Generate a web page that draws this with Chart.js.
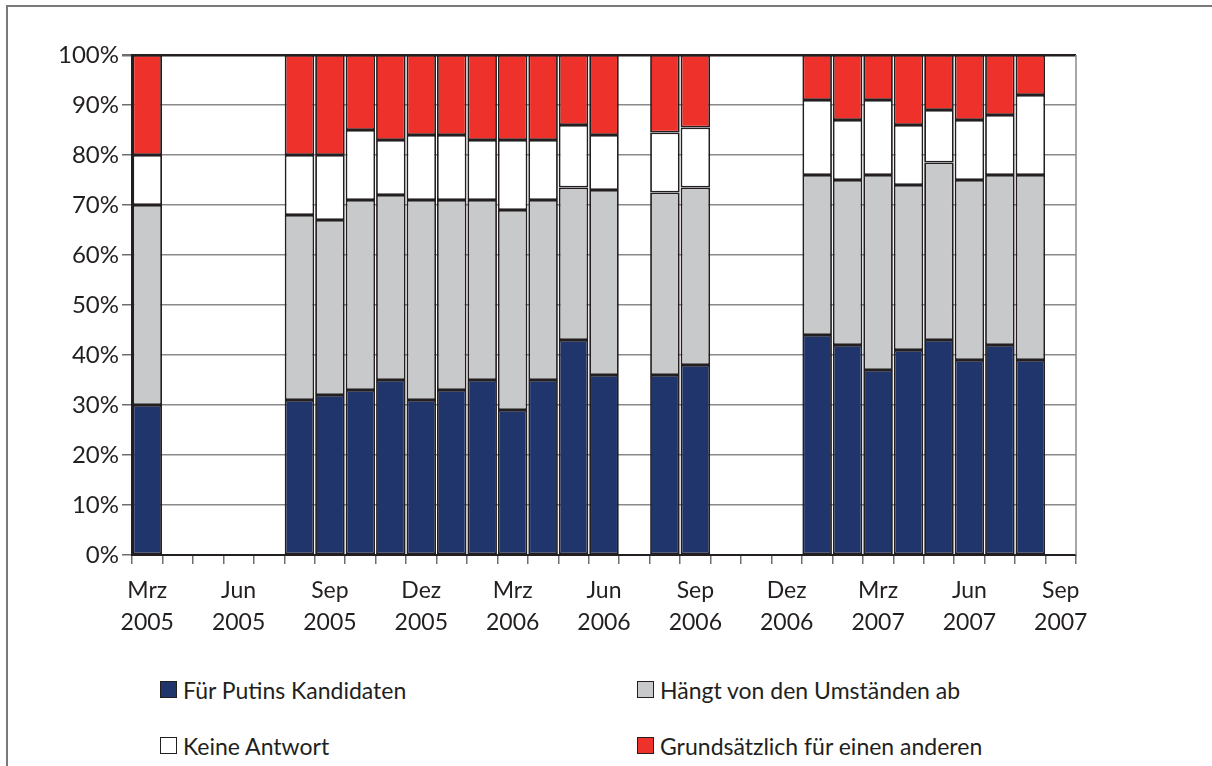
<!DOCTYPE html>
<html>
<head>
<meta charset="utf-8">
<script src="https://cdn.jsdelivr.net/npm/chart.js@4.4.0/dist/chart.umd.min.js"></script>
<style>
  body { margin: 0; background: #fff; }
  #frame {
    position: absolute; left: 6px; top: 5px; width: 1206px; height: 761px;
    border-top: 2px solid #7a7a7a; border-left: 2px solid #7a7a7a;
    box-sizing: border-box;
  }
  #wrap { position: absolute; left: 0; top: 0; width: 1212px; height: 640px; }
  #legend {
    position: absolute; left: 160px; top: 677px;
    display: grid; grid-template-columns: 477px 400px; row-gap: 31px;
    font-family: "Lato", sans-serif; font-size: 23px; color: #231f20;
  }
  .item { display: flex; align-items: center; height: 25px; }
  .box { width: 17px; height: 17px; border: 1.5px solid #231f20; margin-right: 6px; box-sizing: border-box; }
</style>
</head>
<body>
<div id="frame"></div>
<div id="wrap"><canvas id="umfrageChart"></canvas></div>
<div id="legend"></div>
<script>
// Monate Mrz 2005 bis Sep 2007
const months = [
    'Mrz 2005', 'Apr 2005', 'Mai 2005', 'Jun 2005', 'Jul 2005', 'Aug 2005', 'Sep 2005', 'Okt 2005', 'Nov 2005', 'Dez 2005',
    'Jan 2006', 'Feb 2006', 'Mrz 2006', 'Apr 2006', 'Mai 2006', 'Jun 2006', 'Jul 2006', 'Aug 2006', 'Sep 2006', 'Okt 2006', 'Nov 2006', 'Dez 2006',
    'Jan 2007', 'Feb 2007', 'Mrz 2007', 'Apr 2007', 'Mai 2007', 'Jun 2007', 'Jul 2007', 'Aug 2007', 'Sep 2007'
];

const putinsKandidat = [30, null, null, null, null, 31, 32, 33, 35, 31, 33, 35, 29, 35, 43, 36, null, 36, 38, null, null, null, 44, 42, 37, 41, 43, 39, 42, 39, null];
const umstaende     = [40, null, null, null, null, 37, 35, 38, 37, 40, 38, 36, 40, 36, 30.5, 37, null, 36.5, 35.5, null, null, null, 32, 33, 39, 33, 35.5, 36, 34, 37, null];
const keineAntwort  = [10, null, null, null, null, 12, 13, 14, 11, 13, 13, 12, 14, 12, 12.5, 11, null, 12, 12, null, null, null, 15, 12, 15, 12, 10.5, 12, 12, 16, null];
const andererKand   = [20, null, null, null, null, 20, 20, 15, 17, 16, 16, 17, 17, 17, 14, 16, null, 15.5, 14.5, null, null, null, 9, 13, 9, 14, 11, 13, 12, 8, null];

const yTicks = [0, 10, 20, 30, 40, 50, 60, 70, 80, 90, 100];

const seriesLabels = ['Für Putins Kandidaten', 'Hängt von den Umständen ab', 'Keine Antwort', 'Grundsätzlich für einen anderen'];
const seriesColors = ['#1f356c', '#c8c9cb', '#ffffff', '#ee322b'];
const seriesData = [putinsKandidat, umstaende, keineAntwort, andererKand];

const fontFamily = 'Lato, sans-serif';
const textColor = '#231f20';

function makeDataset(i) {
    return {
        label: seriesLabels[i],
        data: seriesData[i],
        backgroundColor: seriesColors[i],
        borderColor: '#231f20',
        borderWidth: 1.8,
        borderSkipped: false,
        barPercentage: 0.97,
        categoryPercentage: 1.0
    };
}

const ctx = document.getElementById('umfrageChart').getContext('2d');
const chart = new Chart(ctx, {
    type: 'bar',
    data: {
        labels: months,
        datasets: [0, 1, 2, 3].map(makeDataset)
    },
    options: {
        responsive: true,
        maintainAspectRatio: false,
        animation: false,
        layout: { padding: { left: 0, right: 136, top: 55, bottom: 0 } },
        scales: {
            x: {
                stacked: true,
                grid: {
                    offset: true,
                    drawOnChartArea: false,
                    drawTicks: true,
                    tickLength: 9,
                    color: '#6d6e71',
                    lineWidth: 1.5
                },
                border: { color: '#231f20', width: 2 },
                ticks: {
                    autoSkip: false,
                    maxRotation: 0,
                    padding: 10,
                    color: textColor,
                    font: { family: fontFamily, size: 23, lineHeight: 1.42 },
                    callback: function(val, index) {
                        return index % 3 === 0 ? months[index].split(' ') : '';
                    }
                },
                afterFit: function(scale) { scale.height = 85; }
            },
            y: {
                stacked: true,
                min: 0,
                max: 100,
                afterBuildTicks: function(scale) {
                    scale.ticks = yTicks.map(v => ({ value: v }));
                },
                grid: {
                    color: function(c) { return c.tick && c.tick.value === 100 ? '#231f20' : '#8a8a8a'; },
                    lineWidth: function(c) { return c.tick && c.tick.value === 100 ? 2.5 : 1.5; },
                    tickLength: 10,
                    tickColor: '#6d6e71'
                },
                border: { color: '#231f20', width: 2 },
                ticks: {
                    padding: 3,
                    color: textColor,
                    font: { family: fontFamily, size: 24 },
                    callback: function(v) { return v + '%'; }
                },
                afterFit: function(scale) { scale.width = 132; }
            }
        },
        plugins: {
            legend: { display: false },
            tooltip: { enabled: false }
        }
    },
    plugins: [{
        id: 'rightBorder',
        afterDraw: function(c) {
            const a = c.chartArea;
            const g = c.ctx;
            g.save();
            g.strokeStyle = '#8a8a8a';
            g.lineWidth = 1.5;
            g.beginPath();
            g.moveTo(a.right, a.top);
            g.lineTo(a.right, a.bottom);
            g.stroke();
            g.restore();
        }
    }]
});

// HTML-Legende aus den Datensätzen
const legendEl = document.getElementById('legend');
chart.data.datasets.forEach(function(ds) {
    const item = document.createElement('div');
    item.className = 'item';
    const box = document.createElement('span');
    box.className = 'box';
    box.style.background = ds.backgroundColor;
    const txt = document.createElement('span');
    txt.textContent = ds.label;
    item.appendChild(box);
    item.appendChild(txt);
    legendEl.appendChild(item);
});
</script>
</body>
</html>
